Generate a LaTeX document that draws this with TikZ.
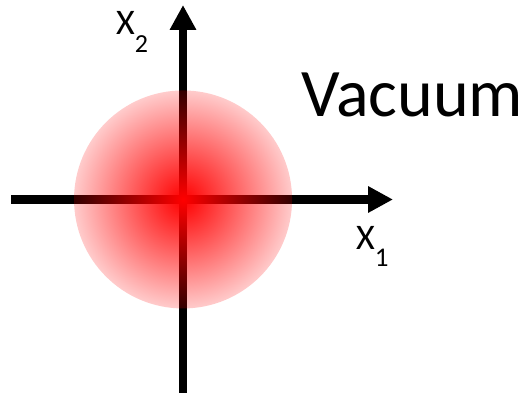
\documentclass[tikz,border=0pt]{standalone}
\usepackage{fontspec}
\setmainfont{Carlito}
\usetikzlibrary{arrows.meta,fadings}
\pgfdeclareradialshading{vacshade}{\pgfpointorigin}{color(0bp)=(white); color(25bp)=(black!80!white); color(50bp)=(black!80!white)}
\pgfdeclarefading{vacfade}{\pgfuseshading{vacshade}}
\tikzset{
  axis/.style={line width=8.5pt, -{Triangle[length=25pt,width=25pt]}},
  lbl/.style={inner sep=0pt, anchor=base west, font=\fontsize{36}{36}\selectfont},
}
\begin{document}
\begin{tikzpicture}[x=1pt,y=-1pt]
\useasboundingbox (0,0) rectangle (528,393);
\coordinate (o) at (183,199.5);
\coordinate (ybot) at (183,393);
\coordinate (ytop) at (183,5);
\coordinate (xleft) at (11,199.5);
\coordinate (xright) at (393,199.5);
\draw[axis, line cap=butt] (ybot) -- (ytop);
\draw[axis, line cap=butt] (xleft) -- (xright);
\fill[red, path fading=vacfade, fit fading=true] (o) circle (109);
\node[lbl] (x2) at (116,35) {X\raisebox{-18pt}{\fontsize{26}{26}\selectfont 2}};
\node[lbl] (x1) at (356,250) {X\raisebox{-17pt}{\fontsize{27}{27}\selectfont 1}};
\node[inner sep=0pt, anchor=base west, font=\fontsize{68}{68}\selectfont] (vac) at (301,117) {Vacuum};
\end{tikzpicture}
\end{document}
